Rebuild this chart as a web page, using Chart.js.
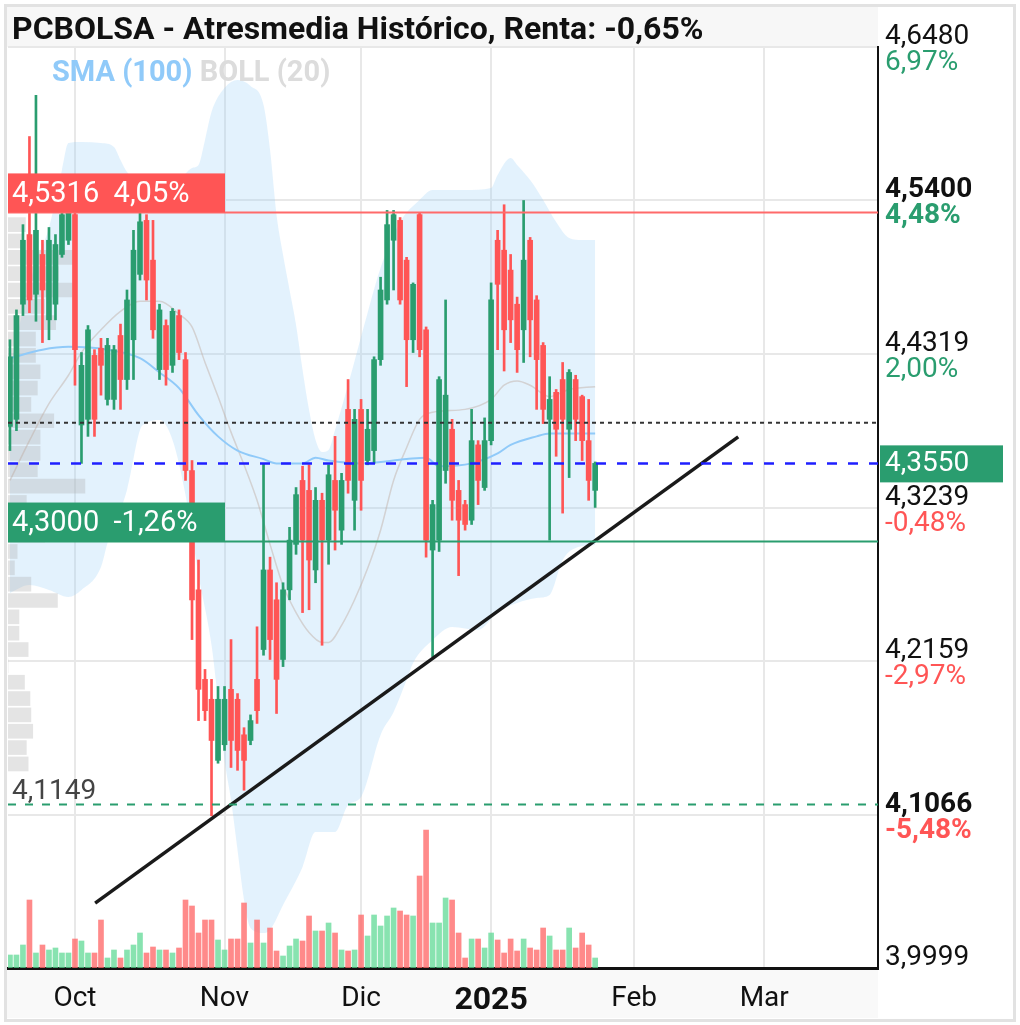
<!DOCTYPE html>
<html>
<head>
<meta charset="utf-8">
<script src="https://cdn.jsdelivr.net/npm/chart.js@4.4.1/dist/chart.umd.min.js"></script>
<style>
  html, body { margin: 0; padding: 0; background: #fff; }
  #wrap { width: 1020px; height: 1025px; }
</style>
</head>
<body>
<div id="wrap"><canvas id="chart" width="1020" height="1025"></canvas></div>
<script>
// daily candles, one per trading day (17 Sep 2024 .. 24 Jan 2025), x = trading day index
const open = [4.381,4.386,4.467,4.516,4.474,4.502,4.456,4.467,4.502,4.512,
  4.530,4.382,4.386,4.431,4.436,4.400,4.400,4.445,4.414,4.442,
  4.488,4.526,4.498,4.421,4.452,4.424,4.459,4.428,4.350,4.266,
  4.203,4.189,4.146,4.157,4.196,4.189,4.164,4.160,4.203,4.224,
  4.280,4.259,4.217,4.266,4.298,4.343,4.336,4.280,4.329,4.301,
  4.343,4.308,4.393,4.329,4.393,4.357,4.364,4.428,4.470,4.512,
  4.526,4.498,4.442,4.530,4.449,4.294,4.301,4.350,4.379,4.336,
  4.326,4.315,4.368,4.338,4.371,4.512,4.505,4.491,4.467,4.449,
  4.512,4.470,4.438,4.386,4.405,4.414,4.379,4.414,4.402,4.371,
  4.336];
const high = [4.442,4.463,4.523,4.585,4.614,4.512,4.521,4.516,4.533,4.535,
  4.533,4.433,4.452,4.435,4.443,4.443,4.438,4.453,4.477,4.519,
  4.533,4.530,4.526,4.467,4.456,4.464,4.463,4.433,4.357,4.287,
  4.210,4.203,4.198,4.198,4.231,4.193,4.169,4.178,4.240,4.355,
  4.289,4.271,4.271,4.310,4.338,4.353,4.354,4.338,4.334,4.354,
  4.374,4.348,4.414,4.393,4.400,4.393,4.430,4.486,4.533,4.533,
  4.528,4.500,4.482,4.531,4.451,4.329,4.416,4.470,4.386,4.343,
  4.329,4.393,4.371,4.387,4.482,4.519,4.537,4.502,4.472,4.540,
  4.514,4.473,4.440,4.416,4.407,4.426,4.421,4.417,4.403,4.400,
  4.356];
const low = [4.364,4.378,4.459,4.461,4.455,4.440,4.442,4.456,4.500,4.509,
  4.410,4.355,4.374,4.374,4.403,4.396,4.393,4.393,4.407,4.414,
  4.484,4.470,4.443,4.414,4.410,4.419,4.428,4.343,4.231,4.174,
  4.174,4.107,4.144,4.153,4.141,4.139,4.125,4.157,4.172,4.220,
  4.217,4.179,4.212,4.259,4.291,4.250,4.252,4.271,4.227,4.284,
  4.294,4.298,4.334,4.308,4.322,4.354,4.355,4.424,4.467,4.477,
  4.467,4.409,4.433,4.430,4.289,4.219,4.293,4.341,4.315,4.276,
  4.308,4.312,4.326,4.336,4.368,4.435,4.420,4.440,4.419,4.426,
  4.430,4.393,4.383,4.301,4.360,4.320,4.345,4.371,4.357,4.329,
  4.324];
const close = [4.430,4.459,4.512,4.470,4.519,4.477,4.512,4.509,4.530,4.532,
  4.435,4.424,4.449,4.386,4.424,4.438,4.435,4.414,4.470,4.505,
  4.525,4.484,4.449,4.463,4.421,4.462,4.433,4.350,4.259,4.196,
  4.181,4.160,4.189,4.189,4.160,4.153,4.146,4.174,4.181,4.280,
  4.231,4.203,4.266,4.301,4.333,4.301,4.287,4.329,4.301,4.347,
  4.322,4.343,4.343,4.386,4.343,4.379,4.428,4.477,4.523,4.530,
  4.470,4.442,4.481,4.435,4.301,4.326,4.414,4.403,4.329,4.315,
  4.312,4.371,4.343,4.371,4.470,4.481,4.449,4.456,4.435,4.498,
  4.456,4.428,4.393,4.400,4.379,4.386,4.419,4.386,4.371,4.343,
  4.355];
// volume, thousands of shares
const volume = [39,39,69,204,45,69,54,60,45,45,
  87,81,45,45,144,30,54,30,54,69,
  105,45,63,54,54,45,60,204,186,105,
  144,144,84,54,87,87,195,75,144,75,
  120,51,36,66,87,81,156,111,111,135,
  105,54,51,54,159,96,159,126,156,180,
  171,159,156,276,414,135,135,210,204,105,
  30,87,87,60,105,84,45,87,51,87,
  60,54,120,96,54,54,120,60,105,69,
  30];

// indicators: [trading day index, price]
const bollUpper = [[0,4.4207],[2,4.4629],[4,4.4967],[6,4.5207],[8,4.5615],[9,4.5805],[11,4.5812],[14,4.5805],
  [16,4.5777],[17,4.5685],[18,4.5601],[20,4.5530],[23,4.5502],[26,4.5544],[28,4.5629],[29,4.5650],
  [30,4.5826],[31,4.6023],[33,4.6192],[35,4.6248],[37,4.6206],[39,4.6072],[40,4.5755],[41,4.5298],
  [42,4.5016],[43,4.4770],[44,4.4524],[45,4.4207],[46,4.3926],[47,4.3715],[48,4.3630],[49,4.3644],
  [50,4.3785],[52,4.4102],[55,4.4608],[57,4.4925],[60,4.5249],[63,4.5404],[65,4.5474],[70,4.5474],
  [74,4.5488],[75,4.5579],[77,4.5699],[78,4.5650],[80,4.5544],[82,4.5404],[84,4.5249],[86,4.5136],
  [88,4.5122],[90,4.5122]];
const bollLower = [[0,4.2638],[3,4.2694],[6,4.2659],[9,4.2610],[11,4.2659],[14,4.2821],[15,4.2990],
  [18,4.3363],[20,4.3785],[21,4.3834],[23,4.3855],[25,4.3715],[27,4.3328],[29,4.2765],[31,4.2272],
  [32,4.1885],[33,4.1463],[34,4.1181],[35,4.0829],[36,4.0477],[37,4.0280],[39,4.0245],[40,4.0266],
  [42,4.0442],[45,4.0710],[47,4.0956],[50,4.0956],[52,4.1146],[54,4.1202],[57,4.1639],[59,4.1800],
  [61,4.2026],[62,4.2145],[65,4.2307],[68,4.2399],[72,4.2378],[75,4.2504],[78,4.2568],[81,4.2603],
  [83,4.2624],[85,4.2870],[87,4.2955],[90,4.2976]];
const bollMid = [[0,4.343],[3,4.371],[6,4.397],[9,4.417],[11,4.433],[14,4.449],[17,4.462],[20,4.469],
  [23,4.469],[26,4.460],[28,4.451],[30,4.426],[32,4.402],[34,4.377],[36,4.354],[38,4.329],[40,4.298],
  [42,4.269],[44,4.250],[46,4.236],[48,4.229],[49,4.229],[51,4.241],[53,4.259],[55,4.281],[57,4.308],
  [59,4.343],[61,4.366],[63,4.386],[65,4.391],[70,4.393],[74,4.400],[76,4.410],[78,4.413],[80,4.410],
  [83,4.402],[86,4.407],[90,4.409]];
const sma100 = [[0,4.429],[5,4.435],[9,4.437],[15,4.435],[20,4.429],[23,4.419],[26,4.408],[29,4.389],
  [32,4.374],[35,4.364],[39,4.358],[41,4.355],[45,4.355],[47,4.359],[49,4.357],[54,4.355],[61,4.358],
  [64,4.359],[66,4.353],[71,4.355],[75,4.362],[77,4.368],[81,4.374],[83,4.376],[90,4.376]];

// support trend line drawn by the user
const trendIdx = [13.1, 112];
const trendVal = [4.0456, 4.3736];

// volume by price (left profile)
const profPrice = [4.5230,4.5115,4.5000,4.4885,4.4770,4.4655,4.4540,4.4425,4.4310,4.4195,4.4080,
  4.3965,4.3850,4.3735,4.3620,4.3505,4.3390,4.3275,4.3160,4.3045,4.2930,4.2815,4.2700,4.2585,
  4.2470,4.2355,4.2240,4.2125,4.2010,4.1895,4.1780,4.1665,4.1550,4.1435];
const profVol = [19,15,72,55,70,40,52,30,30,35,32,25,50,35,35,32,84,20,40,40,10,7,25,54,12,12,22,0,18,24,25,27,20,22];

// horizontal levels
const refVals = [4.5316, 4.3835, 4.3550, 4.3000, 4.1149];
const boxVals = [4.5316, 4.3000];
const boxText = ['4,5316  4,05%', '4,3000  -1,26%'];
const lowVal = 4.1149;
const lowText = '4,1149';
const lastText = '4,3550';

// axes
const tickIdx = [10, 33, 54, 74, 96, 116];
const tickText = ['Oct', 'Nov', 'Dic', '2025', 'Feb', 'Mar'];
const gridVals = [3.9999, 4.1079, 4.2159, 4.3239, 4.4319, 4.5400, 4.6480];
const gridText = ['3,9999', '4,1066', '4,2159', '4,3239', '4,4319', '4,5400', '4,6480'];
const gridPct = ['', '-5,48%', '-2,97%', '-0,48%', '2,00%', '4,48%', '6,97%'];
const gridBold = [false, true, false, false, false, true, false];

const titleText = 'PCBOLSA - Atresmedia Histórico, Renta: -0,65%';

const GREEN = '#2a9d6f', RED = '#ff5555';
const FONT = 'Roboto';
const up = close.map((c, i) => c >= open[i]);
const toXY = arr => arr.map(([x, y]) => ({x, y}));

const refStyle = [
  {color: '#ff6a6a', width: 2, dash: []},
  {color: '#333333', width: 2, dash: [4, 4]},
  {color: '#1f1fff', width: 2.5, dash: [10, 11]},
  {color: GREEN, width: 2, dash: []},
  {color: GREEN, width: 2, dash: [8, 9]}
];
const boxColor = [RED, GREEN];

const overlay = {
  id: 'overlay',
  beforeDraw(chart) {
    const {ctx, chartArea: a, width, height} = chart;
    ctx.save();
    ctx.fillStyle = '#ffffff';
    ctx.fillRect(0, 0, width, height);
    ctx.fillStyle = '#f7f7f7';
    ctx.fillRect(7, 7, a.right - 7, a.top - 7);
    ctx.fillStyle = '#f9f9f9';
    ctx.fillRect(7, a.bottom, a.right - 7, height - 7 - a.bottom);
    ctx.restore();
  },
  afterDatasetsDraw(chart) {
    const {ctx, chartArea: a} = chart;
    const y = chart.scales.y;
    ctx.save();
    refVals.forEach((v, k) => {
      const st = refStyle[k];
      const py = y.getPixelForValue(v);
      ctx.beginPath();
      ctx.setLineDash(st.dash);
      ctx.strokeStyle = st.color;
      ctx.lineWidth = st.width;
      ctx.moveTo(a.left, py);
      ctx.lineTo(a.right, py);
      ctx.stroke();
    });
    ctx.setLineDash([]);
    ctx.font = '29px ' + FONT;
    ctx.textBaseline = 'middle';
    boxVals.forEach((v, k) => {
      const py = y.getPixelForValue(v);
      ctx.fillStyle = boxColor[k];
      ctx.fillRect(a.left, py - 39, 217, 39);
      ctx.fillStyle = '#ffffff';
      ctx.fillText(boxText[k], a.left + 4, py - 18);
    });
    ctx.textBaseline = 'alphabetic';
    ctx.fillStyle = '#444444';
    ctx.font = '28px ' + FONT;
    ctx.fillText(lowText, a.left + 4, y.getPixelForValue(lowVal) - 6);
    ctx.restore();
  },
  afterDraw(chart) {
    const {ctx, chartArea: a, width, height} = chart;
    const y = chart.scales.y;
    ctx.save();
    // right axis labels: price over percentage
    const x0 = a.right + 7;
    ctx.textBaseline = 'alphabetic';
    gridVals.forEach((v, k) => {
      const py = y.getPixelForValue(v);
      const w = gridBold[k] ? 'bold ' : '';
      ctx.font = w + '28px ' + FONT;
      ctx.fillStyle = '#111111';
      ctx.fillText(gridText[k], x0, py - 3);
      if (gridPct[k]) {
        ctx.fillStyle = gridPct[k].startsWith('-') ? RED : GREEN;
        ctx.fillText(gridPct[k], x0, py + 23);
      }
    });
    // last price tag
    const pl = y.getPixelForValue(close[close.length - 1]);
    ctx.fillStyle = GREEN;
    ctx.fillRect(a.right + 2, pl - 18, 123, 37);
    ctx.fillStyle = '#ffffff';
    ctx.font = '28px ' + FONT;
    ctx.textBaseline = 'middle';
    ctx.fillText(lastText, x0, pl + 1);
    // title and indicator legend
    ctx.textBaseline = 'alphabetic';
    ctx.font = 'bold 32px ' + FONT;
    ctx.fillStyle = '#111111';
    ctx.fillText(titleText, 12, 39);
    ctx.font = 'bold 29px ' + FONT;
    ctx.fillStyle = '#90caf9';
    ctx.fillText('SMA (100)', 52, 81);
    const w1 = ctx.measureText('SMA (100) ').width;
    ctx.fillStyle = '#dcdcdc';
    ctx.fillText('BOLL (20)', 52 + w1, 81);
    // frame
    ctx.strokeStyle = '#e2e2e2';
    ctx.lineWidth = 3;
    ctx.strokeRect(5.5, 5.5, width - 11, height - 10);
    ctx.restore();
  }
};

new Chart(document.getElementById('chart'), {
  type: 'bar',
  data: {
    datasets: [
      {
        type: 'line', label: 'BOLL sup', data: toXY(bollUpper), order: 10,
        borderWidth: 0, borderColor: 'rgba(0,0,0,0)', pointRadius: 0,
        cubicInterpolationMode: 'monotone',
        fill: '+1', backgroundColor: 'rgba(144,202,249,0.25)'
      },
      {
        type: 'line', label: 'BOLL inf', data: toXY(bollLower), order: 9,
        borderWidth: 0, borderColor: 'rgba(0,0,0,0)', pointRadius: 0,
        cubicInterpolationMode: 'monotone', fill: false
      },
      {
        type: 'bar', label: 'Perfil', indexAxis: 'y', xAxisID: 'xProf', yAxisID: 'yProf', order: 8,
        data: profPrice.map((p, k) => ({x: profVol[k], y: p})),
        backgroundColor: 'rgba(175,175,175,0.34)', grouped: false, barThickness: 14
      },
      {
        type: 'line', label: 'BOLL (20)', data: toXY(bollMid), order: 7,
        borderColor: 'rgba(190,170,160,0.45)', borderWidth: 1.5, pointRadius: 0,
        cubicInterpolationMode: 'monotone', fill: false
      },
      {
        type: 'line', label: 'SMA (100)', data: toXY(sma100), order: 6,
        borderColor: '#90caf9', borderWidth: 2, pointRadius: 0,
        cubicInterpolationMode: 'monotone', fill: false
      },
      {
        type: 'bar', label: 'Volumen', yAxisID: 'yVol', order: 5,
        data: volume.map((v, i) => ({x: i, y: v})),
        backgroundColor: up.map(u => u ? 'rgba(90,216,146,0.72)' : 'rgba(255,105,105,0.78)'),
        grouped: false, barThickness: 5
      },
      {
        type: 'bar', label: 'Rango', order: 4,
        data: low.map((l, i) => ({x: i, y: [l, high[i]]})),
        backgroundColor: up.map(u => u ? GREEN : RED),
        grouped: false, barThickness: 2
      },
      {
        type: 'bar', label: 'Cuerpo', order: 3,
        data: open.map((o, i) => ({x: i, y: [o, close[i]]})),
        backgroundColor: up.map(u => u ? GREEN : RED),
        grouped: false, barThickness: 5, minBarLength: 2
      },
      {
        type: 'line', label: 'Tendencia', order: 1,
        data: trendIdx.map((x, k) => ({x, y: trendVal[k]})),
        borderColor: '#1a1a1a', borderWidth: 3.5, pointRadius: 0, fill: false
      }
    ]
  },
  options: {
    responsive: false,
    animation: false,
    layout: { padding: { top: 47, left: 8, right: 5, bottom: 7 } },
    plugins: { legend: { display: false }, tooltip: { enabled: false } },
    scales: {
      x: {
        type: 'linear', position: 'bottom', min: -0.3, max: 133.5, offset: false,
        grid: { color: '#e8e8e8', lineWidth: 2, drawTicks: false, offset: false },
        border: { color: '#111111', width: 3 },
        afterBuildTicks: s => { s.ticks = tickIdx.map(v => ({value: v})); },
        afterFit: s => { s.height = 50; },
        ticks: {
          autoSkip: false, maxRotation: 0, padding: 14, color: '#111111',
          font: c => (c.tick && c.tick.value === 74)
            ? {family: FONT, size: 32, weight: 'bold'}
            : {family: FONT, size: 28, weight: 'normal'},
          callback: v => tickText[tickIdx.indexOf(v)]
        }
      },
      y: {
        type: 'linear', position: 'right', min: 3.9999, max: 4.6480, offset: false,
        grid: { color: '#e8e8e8', lineWidth: 2, drawTicks: false },
        border: { color: '#111111', width: 2 },
        afterBuildTicks: s => { s.ticks = gridVals.map(v => ({value: v})); },
        afterFit: s => { s.width = 137; },
        ticks: { display: false }
      },
      yVol: { type: 'linear', display: false, min: 0, max: 2763, offset: false },
      xProf: { type: 'linear', axis: 'x', display: false, min: 0, max: 950, offset: false },
      yProf: { type: 'linear', axis: 'y', display: false, min: 3.9999, max: 4.6480, offset: false }
    }
  },
  plugins: [overlay]
});
</script>
</body>
</html>
